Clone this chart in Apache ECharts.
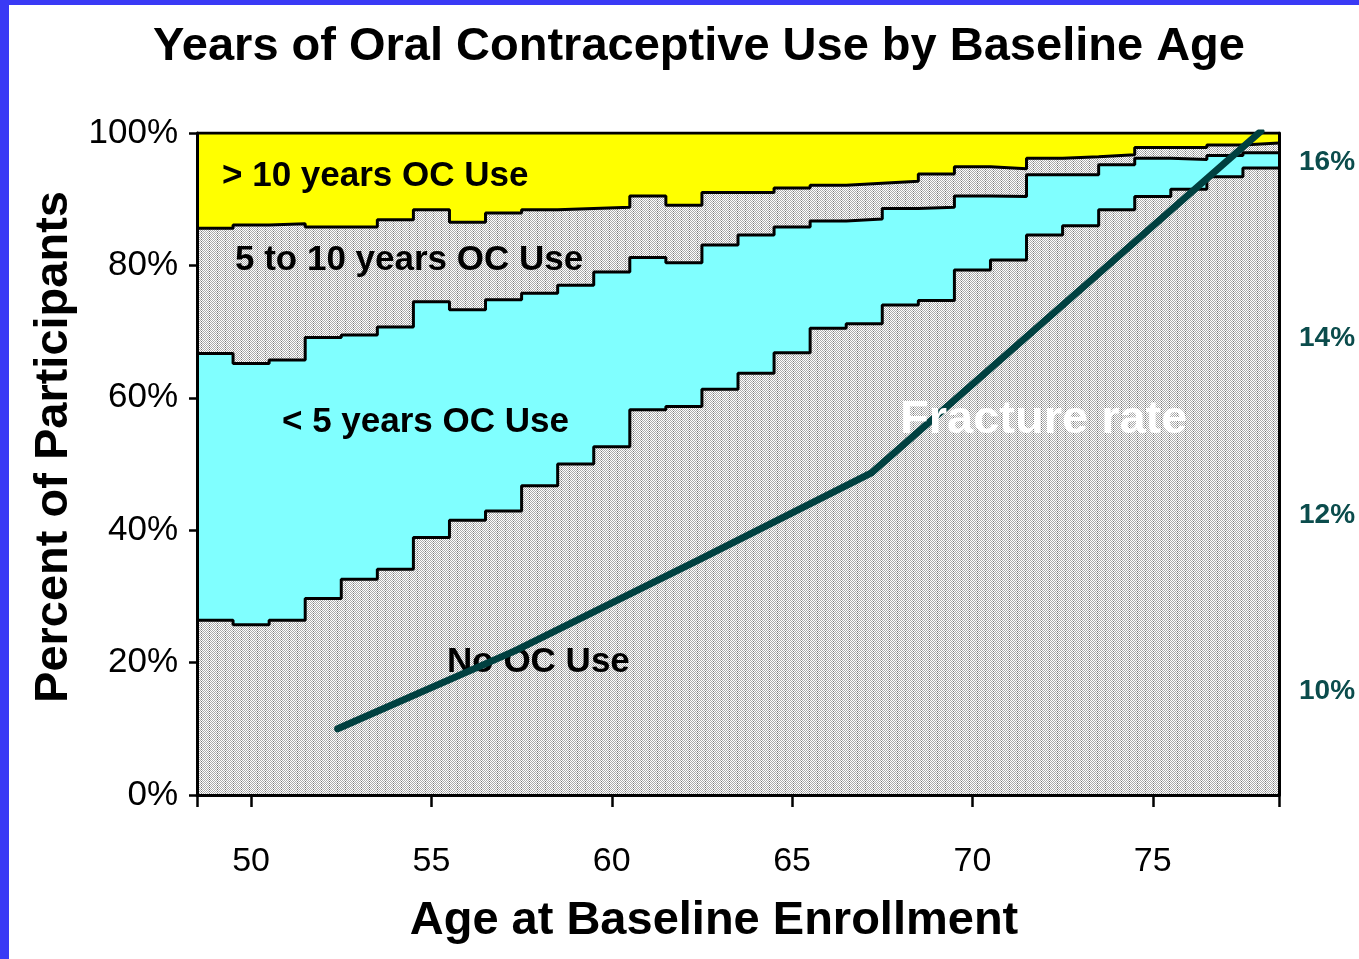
<!DOCTYPE html>
<html>
<head>
<meta charset="utf-8">
<script src="https://cdn.jsdelivr.net/npm/echarts@6/dist/echarts.min.js"></script>
<style>
  html, body { margin: 0; padding: 0; background: #3a3af5; width: 1359px; height: 959px; overflow: hidden; }
  #chart { position: absolute; left: 9px; top: 5px; width: 1350px; height: 954px; background: #fff; }
</style>
</head>
<body>
<div id="chart"></div>
<script>
// age at baseline, one bin per year
var ages = [49, 50, 51, 52, 53, 54, 55, 56, 57, 58, 59, 60, 61, 62, 63, 64, 65, 66, 67, 68, 69, 70, 71, 72, 73, 74, 75, 76, 77, 78];

// percent of participants in each OC-use group
var noOC = [26.4, 25.7, 26.4, 29.7, 32.6, 34.1, 38.9, 41.5, 42.9, 46.7, 50.0, 52.6, 58.2, 58.7, 61.3, 63.7, 66.8, 70.5, 71.2, 74.0, 74.7, 79.3, 80.8, 84.6, 86.0, 88.4, 90.4, 91.5, 93.4, 94.7];
var under5 = [40.3, 39.5, 39.3, 39.4, 36.9, 36.6, 35.6, 31.8, 31.9, 29.1, 27.0, 26.4, 23.0, 21.7, 21.8, 20.9, 19.0, 16.2, 15.8, 14.6, 14.1, 11.2, 9.6, 9.1, 7.7, 6.8, 5.8, 4.5, 3.2, 2.3];
var fiveTo10 = [18.9, 20.9, 20.6, 16.7, 16.3, 16.2, 13.9, 13.2, 13.1, 12.6, 11.6, 9.8, 9.3, 8.7, 7.9, 6.4, 5.9, 5.4, 5.4, 4.1, 5.0, 4.4, 4.2, 2.5, 2.7, 1.5, 1.6, 1.8, 1.6, 1.5];
var over10 = [14.4, 13.9, 13.7, 14.2, 14.2, 13.1, 11.6, 13.5, 12.1, 11.6, 11.4, 11.2, 9.5, 10.9, 9.0, 9.0, 8.3, 7.9, 7.6, 7.3, 6.2, 5.1, 5.4, 3.8, 3.6, 3.3, 2.2, 2.2, 1.8, 1.5];

// fracture rate (%) against age
var fractureAge = [52.4, 57.3, 62.4, 67.2, 78.0];
var fractureRate = [9.58, 10.46, 11.49, 12.48, 16.35];

var xLabels = [50, 55, 60, 65, 70, 75];
var rateLabels = [10, 12, 14, 16];

var font = '"Liberation Sans", Arial, sans-serif';

// stipple fill like the old slide pattern
function makeStipple() {
  var c = document.createElement('canvas');
  c.width = 8; c.height = 4;
  var g = c.getContext('2d');
  g.fillStyle = '#ffffff';
  g.fillRect(0, 0, 8, 4);
  g.fillStyle = '#ababab';
  for (var x = 0; x < 8; x++) {
    for (var y = 0; y < 4; y++) {
      if ((x + y) % 2 === 0) g.fillRect(x, y, 1, 1);
    }
  }
  g.fillStyle = '#7a7a7a';
  g.fillRect(0, 0, 1, 1);
  g.fillRect(0, 2, 1, 1);
  return c;
}
var stipple = makeStipple();

// running totals, so each band sits on the ones below it
function addUp(a, b) { return a.map(function (v, i) { return +(v + b[i]).toFixed(2); }); }
var top1 = noOC;
var top2 = addUp(top1, under5);
var top3 = addUp(top2, fiveTo10);
var top4 = addUp(top3, over10);

// step points: each value held from age-0.5 to age+0.5
function steps(vals) {
  var pts = ages.map(function (a, i) { return [a - 0.5, vals[i]]; });
  pts.push([ages[ages.length - 1] + 0.5, vals[vals.length - 1]]);
  return pts;
}

function band(name, vals, fill) {
  return {
    name: name,
    type: 'line',
    step: 'end',
    symbol: 'none',
    z: 2,
    data: steps(vals),
    lineStyle: { color: '#000', width: 3 },
    areaStyle: { color: fill, opacity: 1 }
  };
}

var chart = echarts.init(document.getElementById('chart'));

var option = {
  animation: false,
  title: {
    text: 'Years of Oral Contraceptive Use by Baseline Age',
    left: 685,
    top: 14,
    textAlign: 'center',
    textStyle: { fontFamily: font, fontSize: 47, fontWeight: 'bold', color: '#000' }
  },
  grid: { left: 188, top: 128, right: 80, bottom: 164 },
  xAxis: {
    type: 'value',
    min: 48.5,
    max: 78.5,
    z: 5,
    name: 'Age at Baseline Enrollment',
    nameLocation: 'middle',
    nameGap: 103,
    nameTextStyle: { fontFamily: font, fontSize: 47, fontWeight: 'bold', color: '#000', padding: [0, 48, 0, 0] },
    axisLine: { lineStyle: { color: '#000', width: 3 } },
    axisTick: { customValues: [48.5].concat(xLabels, [78.5]), length: 12, lineStyle: { color: '#000', width: 2.5 } },
    axisLabel: { customValues: xLabels, margin: 50, fontFamily: font, fontSize: 34, color: '#000' },
    splitLine: { show: false }
  },
  yAxis: [
    {
      type: 'value',
      min: 0,
      max: 100,
      interval: 20,
      z: 5,
      name: 'Percent of Participants',
      nameLocation: 'middle',
      nameGap: 112,
      nameTextStyle: { fontFamily: font, fontSize: 47, fontWeight: 'bold', color: '#000', padding: [0, 0, 0, 34] },
      axisLine: { show: true, lineStyle: { color: '#000', width: 3 } },
      axisTick: { show: true, length: 8, lineStyle: { color: '#000', width: 2.5 } },
      axisLabel: { formatter: '{value}%', margin: 19, fontFamily: font, fontSize: 35, color: '#000' },
      splitLine: { show: false }
    },
    {
      type: 'value',
      position: 'right',
      min: 8.83,
      max: 16.33,
      z: 5,
      axisLine: { show: true, lineStyle: { color: '#000', width: 3 } },
      axisTick: { show: false },
      axisLabel: {
        customValues: rateLabels,
        formatter: '{value}%',
        margin: 20,
        fontFamily: font,
        fontSize: 28,
        fontWeight: 'bold',
        color: '#0b4c4c'
      },
      splitLine: { show: false }
    }
  ],
  graphic: [
    { type: 'text', left: 213, top: 154, z: 10, style: { text: '> 10 years OC Use', font: 'bold 35px ' + font, fill: '#000' } },
    { type: 'text', left: 226, top: 238, z: 10, style: { text: '5 to 10 years OC Use', font: 'bold 35px ' + font, fill: '#000' } },
    { type: 'text', left: 273, top: 400, z: 10, style: { text: '< 5 years OC Use', font: 'bold 35px ' + font, fill: '#000' } },
    { type: 'text', left: 438, top: 640, z: 3, style: { text: 'No OC Use', font: 'bold 35px ' + font, fill: '#000' } },
    { type: 'text', left: 891, top: 392, z: 10, style: { text: 'Fracture rate', font: 'bold 47px ' + font, fill: '#fff' } }
  ],
  series: [
    band('> 10 years OC Use', top4, '#ffff00'),
    band('5 to 10 years OC Use', top3, { image: stipple, repeat: 'repeat' }),
    band('< 5 years OC Use', top2, '#80ffff'),
    band('No OC Use', top1, { image: stipple, repeat: 'repeat' }),
    {
      name: 'Fracture rate',
      type: 'line',
      yAxisIndex: 1,
      symbol: 'none',
      z: 6,
      data: fractureAge.map(function (a, i) { return [a, fractureRate[i]]; }),
      lineStyle: { color: '#004040', width: 7, cap: 'round' }
    }
  ]
};

chart.setOption(option);
</script>
</body>
</html>
